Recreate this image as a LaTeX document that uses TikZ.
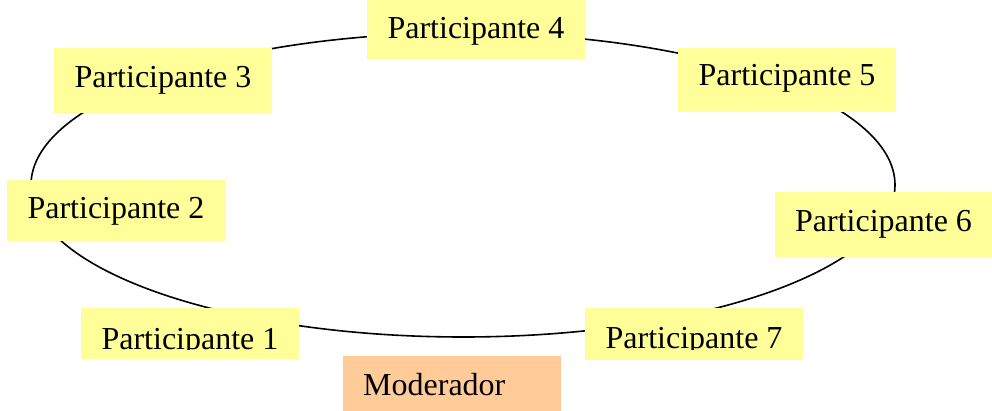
\documentclass[tikz,border=0pt]{standalone}
\usepackage{fontspec}
\setmainfont{Liberation Serif}
\definecolor{pyellow}{HTML}{FFFF99}
\definecolor{porange}{HTML}{FFCC99}
\begin{document}
\begin{tikzpicture}[x=1pt,y=-1pt,
  ybox/.style={fill=pyellow, draw=none, inner sep=0pt, minimum width=218pt, anchor=north west},
  obox/.style={fill=porange, draw=none, inner sep=0pt, minimum width=218pt, anchor=north west},
  lbl/.style={anchor=base, inner sep=0pt, font=\fontsize{32}{38}\selectfont}]
\useasboundingbox (0,0) rectangle (992,411);
\draw[line width=1.6pt] (463,185) ellipse [x radius=432pt, y radius=152pt];
% boxes
\node[ybox, minimum height=59pt] (p4) at (367,0) {};
\node[ybox, minimum height=65pt] (p3) at (54,48) {};
\node[ybox, minimum height=64pt] (p5) at (678,48) {};
\node[ybox, minimum height=61pt] (p2) at (7,180) {};
\node[ybox, minimum height=65pt, minimum width=217pt] (p6) at (775,192) {};
\node[ybox, minimum height=51pt] (p1) at (81,308) {};
\node[ybox, minimum height=52pt] (p7) at (585,308) {};
\node[obox, minimum height=56pt] (mod) at (343,356) {};
% texts
\node[lbl] (t4) at (476,38.3) {Participante 4};
\node[lbl] (t3) at (163,87.5) {Participante 3};
\node[lbl] (t5) at (787,86) {Participante 5};
\node[lbl] (t2) at (116,219) {Participante 2};
\node[lbl] (t6) at (883.5,231.7) {Participante 6};
\begin{scope}
  \clip (81,308) rectangle (299,349.5);
  \node[lbl] (t1) at (190,349) {Participante 1};
\end{scope}
\begin{scope}
  \clip (585,308) rectangle (803,349);
  \node[lbl] (t7) at (694,348.5) {Participante 7};
\end{scope}
\node[lbl, anchor=base west] (tm) at (363,395.7) {Moderador};
\end{tikzpicture}
\end{document}
